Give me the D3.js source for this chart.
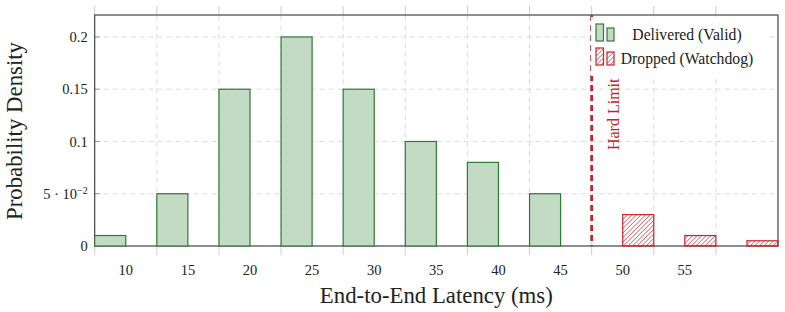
<!DOCTYPE html>
<html>
<head>
<meta charset="utf-8">
<script src="https://cdn.jsdelivr.net/npm/d3@7"></script>
<style>
  body { margin: 0; background: #fff; }
  svg text { font-family: "Liberation Serif", "DejaVu Serif", serif; fill: #222; }
</style>
</head>
<body>
<div id="chart"></div>
<script>
// Latency histogram data (bin labels in ms)
const bins = [10, 15, 20, 25, 30, 35, 40, 45, 50, 55, 60];
const delivered = [0.01, 0.05, 0.15, 0.2, 0.15, 0.1, 0.08, 0.05, 0, 0, null];
const dropped = [null, null, null, null, null, null, null, null, 0.03, 0.01, 0.005];
const xTickLabels = [10, 15, 20, 25, 30, 35, 40, 45, 50, 55];
const yTicks = [0, 0.05, 0.1, 0.15, 0.2];
const hardLimit = 47.5;
const binWidth = 5;

const width = 785, height = 312;
const margin = { top: 15, right: 7, bottom: 66, left: 94.7 };

const green = "#2f7a34", greenFill = "#c3dbc4";
const red = "#cc2229";

const svg = d3.select("#chart").append("svg")
    .attr("width", width)
    .attr("height", height);

// hatch pattern for dropped bars
const defs = svg.append("defs");
defs.append("pattern")
    .attr("id", "hatch")
    .attr("patternUnits", "userSpaceOnUse")
    .attr("width", 3.2).attr("height", 3.2)
    .attr("patternTransform", "rotate(45)")
    .append("line")
    .attr("x1", 0).attr("y1", 0).attr("x2", 0).attr("y2", 3.2)
    .attr("stroke", red).attr("stroke-width", 1.1);

const x = d3.scaleLinear()
    .domain([bins[0] - binWidth / 2, bins[bins.length - 1] + binWidth / 2])
    .range([margin.left, width - margin.right]);

const y = d3.scaleLinear()
    .domain([0, 0.221])
    .range([height - margin.bottom, margin.top]);

// grid lines (at bin edges for x)
const edges = bins.slice(1).map(b => b - binWidth / 2);
svg.append("g")
    .selectAll("line")
    .data(edges)
    .join("line")
    .attr("x1", d => x(d)).attr("x2", d => x(d))
    .attr("y1", y.range()[0]).attr("y2", y.range()[1])
    .attr("stroke", "#dcdcdc").attr("stroke-dasharray", "5,4");

svg.append("g")
    .selectAll("line")
    .data(yTicks.slice(1))
    .join("line")
    .attr("x1", x.range()[0]).attr("x2", x.range()[1])
    .attr("y1", d => y(d)).attr("y2", d => y(d))
    .attr("stroke", "#dcdcdc").attr("stroke-dasharray", "5,4");

// tick marks outside the frame (top and bottom)
const tickEdges = [bins[0] - binWidth / 2].concat(edges);
svg.append("g")
    .selectAll("line")
    .data(tickEdges)
    .join("line")
    .attr("x1", d => x(d)).attr("x2", d => x(d))
    .attr("y1", y(0)).attr("y2", y(0) + 9)
    .attr("stroke", "#cfcfcf");
svg.append("g")
    .selectAll("line")
    .data(tickEdges)
    .join("line")
    .attr("x1", d => x(d)).attr("x2", d => x(d))
    .attr("y1", margin.top - 9).attr("y2", margin.top)
    .attr("stroke", "#cfcfcf");

// y tick marks
svg.append("g")
    .selectAll("line")
    .data(yTicks)
    .join("line")
    .attr("x1", x.range()[0]).attr("x2", x.range()[0] + 5)
    .attr("y1", d => y(d)).attr("y2", d => y(d))
    .attr("stroke", "#999");

// frame
svg.append("rect")
    .attr("x", x.range()[0]).attr("y", y.range()[1])
    .attr("width", x.range()[1] - x.range()[0])
    .attr("height", y.range()[0] - y.range()[1])
    .attr("fill", "none").attr("stroke", "#444").attr("stroke-width", 1.2);

// delivered bars: left half of each bin
const half = binWidth / 2;
svg.append("g")
    .selectAll("rect")
    .data(bins.map((b, i) => ({ b, v: delivered[i] })).filter(d => d.v !== null))
    .join("rect")
    .attr("x", d => x(d.b - half))
    .attr("y", d => y(d.v))
    .attr("width", d => x(d.b) - x(d.b - half))
    .attr("height", d => y(0) - y(d.v))
    .attr("fill", greenFill)
    .attr("stroke", green).attr("stroke-width", 1.2);

// dropped bars: right half of each bin
svg.append("g")
    .selectAll("rect")
    .data(bins.map((b, i) => ({ b, v: dropped[i] })).filter(d => d.v !== null))
    .join("rect")
    .attr("x", d => x(d.b))
    .attr("y", d => y(d.v))
    .attr("width", d => x(d.b + half) - x(d.b))
    .attr("height", d => y(0) - y(d.v))
    .attr("fill", "url(#hatch)")
    .attr("stroke", red).attr("stroke-width", 1.2);

// hard limit
svg.append("line")
    .attr("x1", x(hardLimit)).attr("x2", x(hardLimit))
    .attr("y1", y.range()[1]).attr("y2", y(0))
    .attr("stroke", "#c4232b").attr("stroke-width", 2.8)
    .attr("stroke-dasharray", "6,4");

svg.append("text")
    .attr("transform", `translate(${x(hardLimit) + 27},${y(0.126)}) rotate(-90)`)
    .attr("text-anchor", "middle")
    .style("font-size", "16px")
    .style("fill", "#c4232b")
    .text("Hard Limit");

// x tick labels (centred on bin label value)
svg.append("g")
    .selectAll("text")
    .data(xTickLabels)
    .join("text")
    .attr("x", d => x(d))
    .attr("y", y(0) + 29)
    .attr("text-anchor", "middle")
    .style("font-size", "14.5px")
    .text(d => d);

// y tick labels
const yLabel = svg.append("g")
    .selectAll("text")
    .data(yTicks)
    .join("text")
    .attr("x", x.range()[0] - 7)
    .attr("y", d => y(d))
    .attr("dy", "0.35em")
    .attr("text-anchor", "end")
    .style("font-size", "14.5px");
yLabel.each(function (d) {
    const t = d3.select(this);
    if (d === 0.05) {
        t.append("tspan").text("5 · 10");
        t.append("tspan").attr("dy", "-0.45em").style("font-size", "10px").text("−2");
    } else {
        t.text(d);
    }
});

// axis titles
svg.append("text")
    .attr("x", x(35))
    .attr("y", 303)
    .attr("text-anchor", "middle")
    .style("font-size", "22.8px")
    .text("End-to-End Latency (ms)");

svg.append("text")
    .attr("transform", `translate(22,131) rotate(-90)`)
    .attr("text-anchor", "middle")
    .style("font-size", "22.8px")
    .text("Probability Density");

// legend
const legend = svg.append("g");
legend.append("rect")
    .attr("x", 591).attr("y", 17).attr("width", 176).attr("height", 59)
    .attr("fill", "#fff");

const legendItems = [
    { label: "Delivered (Valid)", fill: greenFill, stroke: green },
    { label: "Dropped (Watchdog)", fill: "url(#hatch)", stroke: red }
];
legendItems.forEach((item, i) => {
    const cy = 41 + i * 24;
    legend.append("rect")
        .attr("x", 596).attr("y", cy - 17).attr("width", 7.5).attr("height", 17)
        .attr("fill", item.fill).attr("stroke", item.stroke).attr("stroke-width", 1.2);
    legend.append("rect")
        .attr("x", 607).attr("y", cy - 13).attr("width", 7).attr("height", 13)
        .attr("fill", item.fill).attr("stroke", item.stroke).attr("stroke-width", 1.2);
    legend.append("text")
        .attr("x", 687).attr("y", cy - 1)
        .attr("text-anchor", "middle")
        .style("font-size", "15.7px")
        .text(item.label);
});
</script>
</body>
</html>
